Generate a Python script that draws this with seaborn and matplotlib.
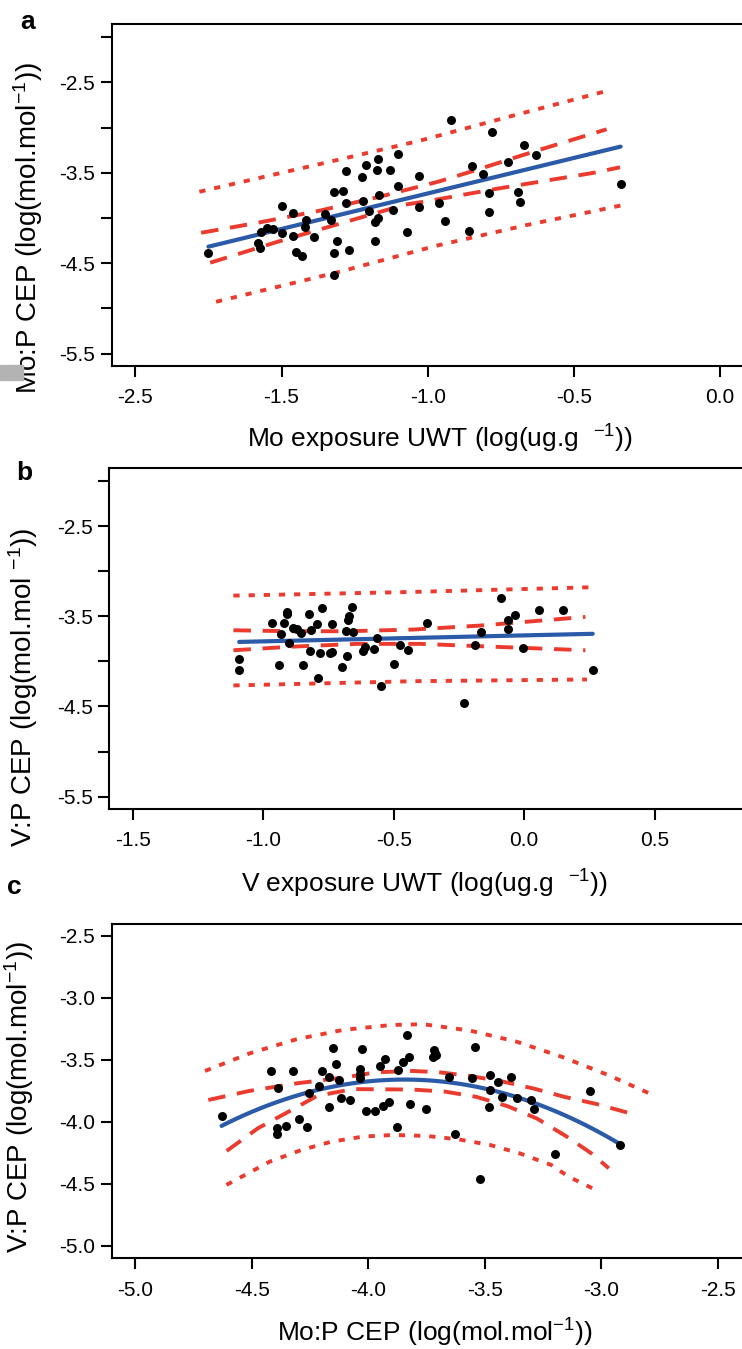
import numpy as np
import pandas as pd
import matplotlib
matplotlib.use("Agg")
import matplotlib.pyplot as plt
from matplotlib.patches import Rectangle
import seaborn as sns

# ---- panel a: Mo exposure UWT vs Mo:P CEP ----
a_x = [-1.75, -1.58, -1.575, -1.57, -1.55, -1.53, -1.50, -1.50, -1.46, -1.46,
       -1.45, -1.43, -1.415, -1.42, -1.39, -1.35, -1.33, -1.32, -1.29, -1.31,
       -1.32, -1.32, -1.28, -1.28, -1.27, -1.225, -1.22, -1.21, -1.20, -1.175,
       -1.17, -1.165, -1.18, -1.17, -1.18, -1.13, -1.12, -1.10, -1.10, -1.07,
       -1.03, -1.03, -0.96, -0.94, -0.92, -0.86, -0.85, -0.81, -0.79, -0.79,
       -0.78, -0.725, -0.69, -0.685, -0.67, -0.63, -0.34]
a_y = [-4.385, -4.28, -4.33, -4.16, -4.11, -4.12, -3.87, -4.17, -3.94, -4.20,
       -4.38, -4.42, -4.02, -4.10, -4.21, -3.96, -4.02, -3.71, -3.70, -4.25,
       -4.385, -4.63, -3.48, -3.84, -4.36, -3.55, -3.81, -3.42, -3.92, -3.47,
       -3.35, -3.75, -4.04, -4.00, -4.26, -3.47, -3.91, -3.65, -3.29, -4.15,
       -3.54, -3.88, -3.83, -4.03, -2.92, -4.14, -3.43, -3.51, -3.72, -3.93,
       -3.05, -3.38, -3.71, -3.82, -3.19, -3.30, -3.62]
a_ci_up_x = [-1.775, -1.581, -1.370, -1.164, -0.965, -0.839, -0.631, -0.388]
a_ci_up_y = [-4.164, -4.053, -3.920, -3.765, -3.600, -3.475, -3.260, -3.020]
a_ci_lo_x = [-1.744, -1.513, -1.290, -1.079, -0.993, -0.763, -0.436, -0.342]
a_ci_lo_y = [-4.495, -4.263, -4.053, -3.854, -3.810, -3.677, -3.503, -3.440]
a_pi_up_x = [-1.781, -1.290, -1.027, -0.713, -0.388]
a_pi_up_y = [-3.710, -3.345, -3.146, -2.873, -2.596]
a_pi_lo_x = [-1.724, -1.301, -0.970, -0.662, -0.331]
a_pi_lo_y = [-4.927, -4.595, -4.307, -4.079, -3.857]

# ---- panel b: V exposure UWT vs V:P CEP ----
b_x = [-1.092, -1.091, -0.967, -0.939, -0.932, -0.922, -0.909, -0.907, -0.900, -0.884,
       -0.869, -0.856, -0.849, -0.823, -0.820, -0.817, -0.794, -0.790, -0.784, -0.775,
       -0.743, -0.737, -0.735, -0.698, -0.683, -0.677, -0.673, -0.670, -0.661, -0.654,
       -0.618, -0.609, -0.574, -0.564, -0.548, -0.500, -0.475, -0.445, -0.372, -0.232,
       -0.188, -0.164, -0.088, -0.062, -0.060, -0.036, -0.004, 0.056, 0.149, 0.263]
b_y = [-3.97, -4.10, -3.57, -4.04, -3.70, -3.58, -3.48, -3.45, -3.80, -3.63,
       -3.64, -3.69, -4.04, -3.47, -3.88, -3.65, -3.59, -4.18, -3.91, -3.41,
       -3.91, -3.59, -3.90, -4.06, -3.66, -3.94, -3.54, -3.50, -3.40, -3.67,
       -3.89, -3.84, -3.86, -3.74, -4.27, -4.03, -3.82, -3.87, -3.57, -4.46,
       -3.82, -3.67, -3.30, -3.54, -3.64, -3.49, -3.85, -3.43, -3.43, -4.10]
b_ci_up_x = [-1.114, -0.897, -0.679, -0.424, -0.168, 0.235]
b_ci_up_y = [-3.655, -3.666, -3.666, -3.647, -3.603, -3.507]
b_ci_lo_x = [-1.114, -0.897, -0.641, -0.398, -0.168, 0.235]
b_ci_lo_y = [-3.877, -3.838, -3.806, -3.806, -3.832, -3.877]
b_pi_up_x = [-1.114, -0.424, 0.248]
b_pi_up_y = [-3.271, -3.230, -3.179]
b_pi_lo_x = [-1.114, -0.424, 0.241]
b_pi_lo_y = [-4.267, -4.220, -4.201]

# ---- panel c: Mo:P CEP vs V:P CEP ----
c_x = [-4.629, -4.417, -4.386, -4.389, -4.389, -4.354, -4.322, -4.297, -4.264, -4.253,
       -4.210, -4.200, -4.167, -4.167, -4.150, -4.140, -4.124, -4.118, -4.078, -4.036,
       -4.036, -4.036, -4.026, -4.011, -3.971, -3.950, -3.936, -3.928, -3.910, -3.876,
       -3.871, -3.850, -3.833, -3.824, -3.821, -3.750, -3.718, -3.714, -3.707, -3.720,
       -3.653, -3.628, -3.554, -3.542, -3.481, -3.475, -3.475, -3.443, -3.424, -3.385,
       -3.361, -3.299, -3.288, -3.196, -3.049, -2.918, -3.520]
c_y = [-3.949, -3.589, -3.728, -4.051, -4.100, -4.032, -3.589, -3.973, -4.038, -3.763,
       -3.710, -3.589, -3.634, -3.876, -3.406, -3.535, -3.661, -3.804, -3.823, -3.575,
       -3.613, -3.648, -3.414, -3.911, -3.911, -3.546, -3.871, -3.495, -3.836, -4.038,
       -3.581, -3.513, -3.298, -3.473, -3.858, -3.895, -3.419, -3.446, -3.460, -3.478,
       -3.640, -4.100, -3.648, -3.392, -3.876, -3.621, -3.742, -3.675, -3.796, -3.634,
       -3.809, -3.823, -3.898, -4.260, -3.750, -4.185, -4.460]
c_ci_up_x = [-4.686, -4.510, -4.304, -4.096, -3.964, -3.807, -3.697, -3.564, -3.421,
             -3.289, -3.157, -3.021, -2.849]
c_ci_up_y = [-3.823, -3.750, -3.688, -3.640, -3.599, -3.589, -3.599, -3.629, -3.675,
             -3.731, -3.798, -3.855, -3.944]
c_ci_lo_x = [-4.607, -4.473, -4.343, -4.219, -4.064, -3.810, -3.671, -3.535, -3.400,
             -3.275, -3.152, -3.042, -2.967]
c_ci_lo_y = [-4.234, -4.051, -3.919, -3.790, -3.735, -3.739, -3.755, -3.798, -3.874,
             -3.973, -4.113, -4.253, -4.374]
c_pi_up_x = [-4.700, -4.507, -4.307, -4.107, -3.900, -3.764, -3.564, -3.364, -3.164,
             -2.971, -2.778]
c_pi_up_y = [-3.589, -3.446, -3.333, -3.258, -3.218, -3.212, -3.263, -3.352, -3.478,
             -3.621, -3.782]
c_pi_lo_x = [-4.608, -4.422, -4.286, -4.157, -4.021, -3.893, -3.750, -3.614, -3.478,
             -3.350, -3.214, -3.140, -3.008]
c_pi_lo_y = [-4.508, -4.320, -4.226, -4.159, -4.118, -4.105, -4.113, -4.140, -4.185,
             -4.253, -4.347, -4.441, -4.562]

# ---- axis ticks and labels ----
a_xticks = [-2.0, -1.5, -1.0, -0.5, 0.0]
a_xticklabels = ["-2.5", "-1.5", "-1.0", "-0.5", "0.0"]
ab_yticks = [-5.5, -5.0, -4.5, -4.0, -3.5, -3.0, -2.5, -2.0]
ab_yticklabels = ["-5.5", "", "-4.5", "", "-3.5", "", "-2.5", ""]
b_xticks = [-1.5, -1.0, -0.5, 0.0, 0.5]
b_xticklabels = ["-1.5", "-1.0", "-0.5", "0.0", "0.5"]
c_xticks = [-5.0, -4.5, -4.0, -3.5, -3.0, -2.5]
c_xticklabels = ["-5.0", "-4.5", "-4.0", "-3.5", "-3.0", "-2.5"]
c_yticks = [-5.0, -4.5, -4.0, -3.5, -3.0, -2.5]
c_yticklabels = ["-5.0", "-4.5", "-4.0", "-3.5", "-3.0", "-2.5"]

sns.set_style("ticks")
plt.rcParams["font.family"] = ["Liberation Sans", "DejaVu Sans"]
plt.rcParams["mathtext.fontset"] = "custom"
plt.rcParams["mathtext.rm"] = "Liberation Sans"
plt.rcParams["mathtext.it"] = "Liberation Sans:italic"
plt.rcParams["mathtext.bf"] = "Liberation Sans:bold"
for k in ["text.color", "axes.labelcolor", "xtick.color", "ytick.color"]:
    plt.rcParams[k] = "black"

RED = "#eb3b2e"
BLUE = "#2b5aa8"
DASH = (0, (4.5, 3.0))
DOT = (0, (1.6, 2.3))

fig = plt.figure(figsize=(7.42, 13.49), dpi=100)


def panel(rect, x, y, order, bands, xlim, ylim, xt, xtl, yt, ytl,
          xlabel, ylabel, xlab_pos, ylab_pos):
    ax = fig.add_axes(rect)
    for bx, by, ls in bands:
        ax.plot(bx, by, color=RED, lw=2.8, ls=ls, zorder=2)
    df = pd.DataFrame({"x": x, "y": y})
    sns.regplot(data=df, x="x", y="y", ax=ax, order=order, ci=None,
                scatter_kws=dict(s=42, color="black", linewidths=0, alpha=1, zorder=4),
                line_kws=dict(color=BLUE, lw=3, zorder=3))
    ax.set_xlim(*xlim)
    ax.set_ylim(*ylim)
    ax.set_xticks(xt)
    ax.set_xticklabels(xtl)
    ax.set_yticks(yt)
    ax.set_yticklabels(ytl)
    ax.tick_params(axis="both", direction="out", length=8, width=1.5,
                   labelsize=15, color="black", labelcolor="black")
    ax.tick_params(axis="x", pad=8)
    ax.tick_params(axis="y", pad=4)
    for s in ax.spines.values():
        s.set_linewidth(1.5)
        s.set_color("black")
    ax.set_xlabel(xlabel, fontsize=19)
    ax.set_ylabel(ylabel, fontsize=20)
    ax.xaxis.set_label_coords(*xlab_pos)
    ax.yaxis.set_label_coords(*ylab_pos)
    return ax


panel([0.1509, 0.7285, 0.851, 0.2534], a_x, a_y, 1,
      [(a_pi_up_x, a_pi_up_y, DOT), (a_pi_lo_x, a_pi_lo_y, DOT),
       (a_ci_up_x, a_ci_up_y, DASH), (a_ci_lo_x, a_ci_lo_y, DASH)],
      (-2.08, 0.08), (-5.64, -1.86), a_xticks, a_xticklabels, ab_yticks, ab_yticklabels,
      "Mo exposure UWT (log(ug.g  $^{-1}$))", "Mo:P CEP (log(mol.mol$^{-1}$))",
      (0.52, -0.166), (-0.106, 0.404))

panel([0.1472, 0.4001, 0.8545, 0.2527], b_x, b_y, 1,
      [(b_pi_up_x, b_pi_up_y, DOT), (b_pi_lo_x, b_pi_lo_y, DOT),
       (b_ci_up_x, b_ci_up_y, DASH), (b_ci_lo_x, b_ci_lo_y, DASH)],
      (-1.59, 0.84), (-5.64, -1.86), b_xticks, b_xticklabels, ab_yticks, ab_yticklabels,
      "V exposure UWT (log(ug.g  $^{-1}$))", "V:P CEP (log(mol.mol $^{-1}$))",
      (0.497, -0.172), (-0.109, 0.359))

panel([0.1507, 0.0672, 0.851, 0.2482], c_x, c_y, 2,
      [(c_pi_up_x, c_pi_up_y, DOT), (c_pi_lo_x, c_pi_lo_y, DOT),
       (c_ci_up_x, c_ci_up_y, DASH), (c_ci_lo_x, c_ci_lo_y, DASH)],
      (-5.1, -2.39), (-5.1, -2.4), c_xticks, c_xticklabels, c_yticks, c_yticklabels,
      "Mo:P CEP (log(mol.mol$^{-1}$))", "V:P CEP (log(mol.mol$^{-1}$))",
      (0.512, -0.174), (-0.12, 0.483))

# panel letters
fig.text(28 / 742, 1 - 22 / 1349, "a", fontsize=19, fontweight="bold", ha="center", va="center")
fig.text(24 / 742, 1 - 473 / 1349, "b", fontsize=19, fontweight="bold", ha="center", va="center")
fig.text(14 / 742, 1 - 887 / 1349, "c", fontsize=19, fontweight="bold", ha="center", va="center")

# grey scan artefact at the left edge
fig.patches.append(Rectangle((0, 1 - 380 / 1349), 23 / 742, 15 / 1349,
                             transform=fig.transFigure, color="#b3b3b3", zorder=0))

fig.savefig("out.png", dpi=100)
